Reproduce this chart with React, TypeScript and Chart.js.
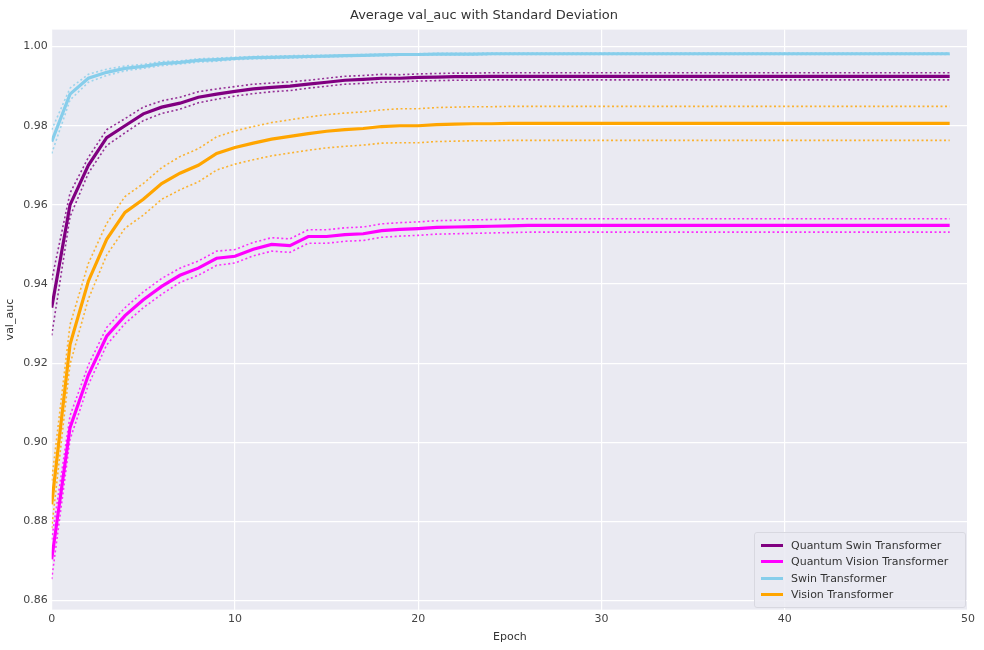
import React, { useEffect, useRef } from 'react';
import { Chart, registerables } from 'chart.js';

Chart.register(...registerables);

const epochs = Array.from({ length: 50 }, (_, i) => i);

const qswinMean = [0.934, 0.960, 0.970, 0.977, 0.980, 0.983, 0.9847, 0.9857, 0.9872, 0.988, 0.9887, 0.9893, 0.9897, 0.990, 0.9905, 0.991, 0.9915, 0.9917, 0.992, 0.992, 0.9922, 0.9923, 0.9924, 0.9924, 0.9925, 0.9925, 0.9925, 0.9925, 0.9925, 0.9925, 0.9925, 0.9925, 0.9925, 0.9925, 0.9925, 0.9925, 0.9925, 0.9925, 0.9925, 0.9925, 0.9925, 0.9925, 0.9925, 0.9925, 0.9925, 0.9925, 0.9925, 0.9925, 0.9925, 0.9925];
const qswinStd = [0.007, 0.003, 0.002, 0.002, 0.0018, 0.0017, 0.0016, 0.0015, 0.0014, 0.0013, 0.0012, 0.0012, 0.0011, 0.0011, 0.001, 0.001, 0.001, 0.001, 0.001, 0.0009, 0.0009, 0.0009, 0.0009, 0.0009, 0.0009, 0.0009, 0.0009, 0.0009, 0.0009, 0.0009, 0.0009, 0.0009, 0.0009, 0.0009, 0.0009, 0.0009, 0.0009, 0.0009, 0.0009, 0.0009, 0.0009, 0.0009, 0.0009, 0.0009, 0.0009, 0.0009, 0.0009, 0.0009, 0.0009, 0.0009];

const qvitMean = [0.8704, 0.9037, 0.917, 0.9268, 0.932, 0.936, 0.9394, 0.9422, 0.944, 0.9465, 0.947, 0.9488, 0.950, 0.9497, 0.952, 0.952, 0.9525, 0.9527, 0.9535, 0.9538, 0.954, 0.9543, 0.9544, 0.9545, 0.9546, 0.9547, 0.9548, 0.9548, 0.9548, 0.9548, 0.9548, 0.9548, 0.9548, 0.9548, 0.9548, 0.9548, 0.9548, 0.9548, 0.9548, 0.9548, 0.9548, 0.9548, 0.9548, 0.9548, 0.9548, 0.9548, 0.9548, 0.9548, 0.9548, 0.9548];
const qvitStd = [0.005, 0.003, 0.0025, 0.0022, 0.002, 0.002, 0.002, 0.0018, 0.0018, 0.0018, 0.0017, 0.0017, 0.0017, 0.0017, 0.0017, 0.0017, 0.0017, 0.0017, 0.0017, 0.0017, 0.0017, 0.0017, 0.0017, 0.0017, 0.0017, 0.0017, 0.0017, 0.0017, 0.0017, 0.0017, 0.0017, 0.0017, 0.0017, 0.0017, 0.0017, 0.0017, 0.0017, 0.0017, 0.0017, 0.0017, 0.0017, 0.0017, 0.0017, 0.0017, 0.0017, 0.0017, 0.0017, 0.0017, 0.0017, 0.0017];

const swinMean = [0.976, 0.988, 0.992, 0.9935, 0.9945, 0.995, 0.9957, 0.996, 0.9965, 0.9967, 0.997, 0.9972, 0.9973, 0.9974, 0.9975, 0.9976, 0.9977, 0.9978, 0.9979, 0.998, 0.998, 0.9981, 0.9981, 0.9981, 0.9982, 0.9982, 0.9982, 0.9982, 0.9982, 0.9982, 0.9982, 0.9982, 0.9982, 0.9982, 0.9982, 0.9982, 0.9982, 0.9982, 0.9982, 0.9982, 0.9982, 0.9982, 0.9982, 0.9982, 0.9982, 0.9982, 0.9982, 0.9982, 0.9982, 0.9982];
const swinStd = [0.003, 0.0015, 0.001, 0.0008, 0.0006, 0.0005, 0.0005, 0.0004, 0.0004, 0.0004, 0.0003, 0.0003, 0.0003, 0.0003, 0.0003, 0.0002, 0.0002, 0.0002, 0.0002, 0.0002, 0.0002, 0.0002, 0.0002, 0.0002, 0.0002, 0.0002, 0.0002, 0.0002, 0.0002, 0.0002, 0.0002, 0.0002, 0.0002, 0.0002, 0.0002, 0.0002, 0.0002, 0.0002, 0.0002, 0.0002, 0.0002, 0.0002, 0.0002, 0.0002, 0.0002, 0.0002, 0.0002, 0.0002, 0.0002, 0.0002];

const vitMean = [0.8843, 0.9247, 0.9407, 0.9513, 0.9581, 0.9614, 0.9654, 0.968, 0.970, 0.973, 0.9745, 0.9756, 0.9766, 0.9773, 0.978, 0.9786, 0.979, 0.9793, 0.9798, 0.980, 0.980, 0.9803, 0.9804, 0.9805, 0.9805, 0.9806, 0.9806, 0.9806, 0.9806, 0.9806, 0.9806, 0.9806, 0.9806, 0.9806, 0.9806, 0.9806, 0.9806, 0.9806, 0.9806, 0.9806, 0.9806, 0.9806, 0.9806, 0.9806, 0.9806, 0.9806, 0.9806, 0.9806, 0.9806, 0.9806];
const vitStd = [0.006, 0.005, 0.0045, 0.004, 0.004, 0.004, 0.004, 0.0042, 0.0042, 0.0042, 0.0042, 0.0042, 0.0042, 0.0042, 0.0042, 0.0042, 0.0042, 0.0042, 0.0042, 0.0043, 0.0043, 0.0043, 0.0043, 0.0043, 0.0043, 0.0043, 0.0043, 0.0043, 0.0043, 0.0043, 0.0043, 0.0043, 0.0043, 0.0043, 0.0043, 0.0043, 0.0043, 0.0043, 0.0043, 0.0043, 0.0043, 0.0043, 0.0043, 0.0043, 0.0043, 0.0043, 0.0043, 0.0043, 0.0043, 0.0043];

const series = [
  { label: 'Quantum Swin Transformer', color: '#800080', mean: qswinMean, std: qswinStd },
  { label: 'Quantum Vision Transformer', color: '#ff00ff', mean: qvitMean, std: qvitStd },
  { label: 'Swin Transformer', color: '#87ceeb', mean: swinMean, std: swinStd },
  { label: 'Vision Transformer', color: '#ffa500', mean: vitMean, std: vitStd },
];

const yTicks = [0.86, 0.88, 0.9, 0.92, 0.94, 0.96, 0.98, 1.0];
const FONT = 'DejaVu Sans';

export default function App() {
  const ref = useRef<HTMLCanvasElement | null>(null);
  useEffect(() => {
    document.body.style.margin = '0';
    if (!ref.current) return;
    const datasets: any[] = [];
    series.forEach((s) => {
      const pts = (arr: number[]) => epochs.map((e, i) => ({ x: e, y: arr[i] }));
      datasets.push({ label: s.label, data: pts(s.mean), borderColor: s.color, backgroundColor: s.color, borderWidth: 3.2, pointRadius: 0 });
      [1, -1].forEach((k) =>
        datasets.push({
          label: '_band',
          data: pts(s.mean.map((m, i) => m + k * s.std[i])),
          borderColor: s.color + 'cc',
          borderWidth: 1.6,
          borderDash: [2, 2.5],
          pointRadius: 0,
        })
      );
    });
    const chart = new Chart(ref.current, {
      type: 'line',
      data: { datasets },
      options: {
        animation: false,
        responsive: false,
        layout: { padding: { left: 0, right: 16, top: 0, bottom: 2 } },
        plugins: {
          legend: { display: false },
          tooltip: { enabled: false },
          title: { display: true, text: 'Average val_auc with Standard Deviation', color: '#333', font: { family: FONT, size: 13, weight: 'normal' }, padding: { top: 8, bottom: 6 } },
        },
        scales: {
          x: {
            type: 'linear', min: 0, max: 50,
            ticks: { stepSize: 10, color: '#444', font: { family: FONT, size: 11 } },
            grid: { color: '#ffffff', lineWidth: 1.2, drawTicks: false },
            border: { display: false },
            title: { display: true, text: 'Epoch', color: '#333', font: { family: FONT, size: 11 }, padding: { top: 2 } },
          },
          y: {
            min: 0.8577, max: 1.0043,
            afterBuildTicks: (s: any) => { s.ticks = yTicks.map((v) => ({ value: v })); },
            ticks: { color: '#444', font: { family: FONT, size: 11 }, padding: 4, callback: (v: any) => Number(v).toFixed(2) },
            grid: { color: '#ffffff', lineWidth: 1.2, drawTicks: false },
            border: { display: false },
            title: { display: true, text: 'val_auc', color: '#333', font: { family: FONT, size: 11 }, padding: { bottom: 2 } },
          },
        },
      },
      plugins: [{
        id: 'bg',
        beforeDraw: (c: any) => {
          const { ctx, chartArea: a } = c;
          ctx.save();
          ctx.fillStyle = '#eaeaf2';
          ctx.fillRect(a.left, a.top, a.right - a.left, a.bottom - a.top);
          ctx.restore();
        },
      }],
    });
    return () => chart.destroy();
  }, []);
  return (
    <div style={{ position: 'relative', width: 984, height: 650, background: '#fff' }}>
      <canvas ref={ref} width={984} height={650} />
      <div style={{ position: 'absolute', left: 754, top: 532, width: 198, padding: '4px 6px', background: 'rgba(234,234,242,0.85)', border: '1px solid #d8d8e0', borderRadius: 3, fontFamily: FONT, fontSize: 11, color: '#333' }}>
        {series.map((s) => (
          <div key={s.label} style={{ display: 'flex', alignItems: 'center', height: 16.5 }}>
            <span style={{ display: 'inline-block', width: 22, height: 3, background: s.color, marginRight: 8 }} />
            {s.label}
          </div>
        ))}
      </div>
    </div>
  );
}
